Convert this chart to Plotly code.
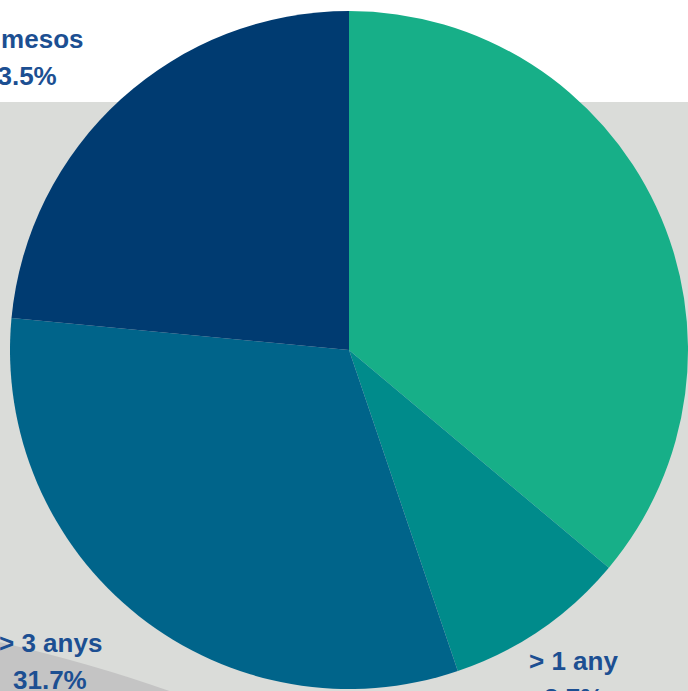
import plotly.graph_objects as go

# ---- data ----
categories = ["6 mesos - 1 any", "> 1 any", "> 3 anys", "< 6 mesos"]
values = [36.1, 8.7, 31.7, 23.5]
colors = ["#17AF88", "#008B8B", "#00648A", "#003B71"]

W, H = 688, 691
TXT = "#1C4F92"
FONT = "Liberation Sans, Arial, sans-serif"

fig = go.Figure()
fig.add_trace(go.Pie(
    labels=categories,
    values=values,
    sort=False,
    direction="clockwise",
    rotation=0,
    marker=dict(colors=colors, line=dict(width=0)),
    textinfo="none",
    hoverinfo="label+percent",
    showlegend=False,
    domain=dict(x=[10 / W, 1], y=[1 / H, 681 / H]),
))

# label positions (pixel centres of line 1) per category; line 2 is 37px below
label_pos = {
    "6 mesos - 1 any": (900, 150),
    "> 1 any": (573, 661),
    "> 3 anys": (50, 643),
    "< 6 mesos": (20, 39),
}
for cat, v in zip(categories, values):
    px, py = label_pos[cat]
    for i, txt in enumerate([cat, f"{v:.1f}%"]):
        fig.add_annotation(
            x=px / W, y=1 - (py + 37 * i) / H, xref="paper", yref="paper",
            text=f"<b>{txt}</b>", showarrow=False,
            xanchor="center", yanchor="middle",
            font=dict(family=FONT, size=26, color=TXT),
        )

# background panels
fig.add_shape(type="rect", xref="paper", yref="paper",
              x0=0, x1=1, y0=-0.01, y1=1 - 102 / H,
              fillcolor="#DADCD9", line=dict(width=0), layer="below")


def p(x, y):
    return f"{x / W:.4f},{1 - y / H:.4f}"


path = (f"M {p(-5, 641)} Q {p(95, 664)} {p(175, 693)} "
        f"L {p(175, 700)} L {p(-5, 700)} Z")
fig.add_shape(type="path", xref="paper", yref="paper", path=path,
              fillcolor="#C4C4C4", line=dict(width=0), layer="below")

fig.update_layout(
    width=W, height=H,
    margin=dict(l=0, r=0, t=0, b=0),
    paper_bgcolor="white",
    plot_bgcolor="white",
)

fig.write_html(
    "out.html",
    config={"displayModeBar": False},
    post_script="document.body.style.margin='0';document.body.style.overflow='hidden';",
)
